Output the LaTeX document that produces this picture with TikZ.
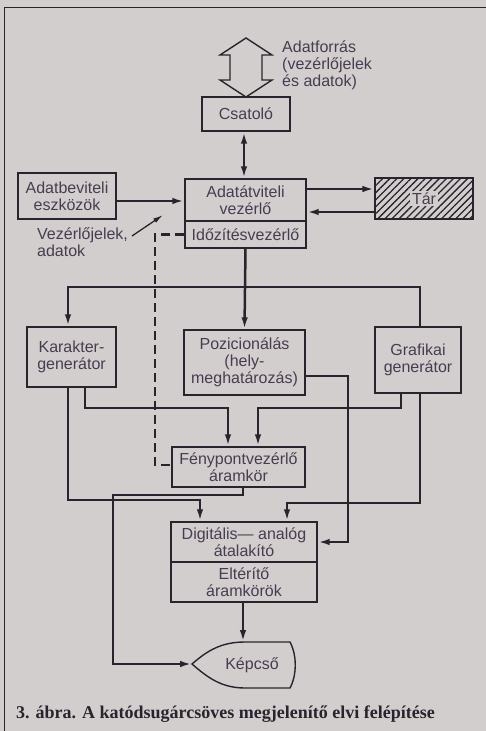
\documentclass[tikz,border=0pt]{standalone}
\usepackage{fontspec}
\setmainfont{Liberation Sans}
\newfontfamily\capfont{Liberation Serif}
\usetikzlibrary{arrows.meta,patterns.meta,calc}
\definecolor{bg}{RGB}{211,206,206}
\definecolor{ink}{RGB}{42,35,45}
\definecolor{txt}{RGB}{72,60,80}
\begin{document}
\begin{tikzpicture}[x=1pt,y=-1pt,
  box/.style={draw=ink, line width=1.4pt, fill=bg, text=txt, align=center,
    font=\fontsize{16}{17}\selectfont, inner sep=0pt},
  lbl/.style={text=txt, font=\fontsize{16}{17}\selectfont, inner sep=0pt},
  conn/.style={draw=ink, line width=2.5pt, -{Latex[length=12pt,width=6.5pt]}},
  dconn/.style={draw=ink, line width=2.5pt, {Latex[length=12pt,width=6.5pt]}-{Latex[length=12pt,width=6.5pt]}},
  thinarrow/.style={draw=ink, line width=1.3pt, -{Latex[length=10pt,width=5pt]}},
  dashwire/.style={draw=ink, line width=2.5pt, dash pattern=on 9pt off 5pt},
]
\fill[bg] (0,0) rectangle (486,731);
\useasboundingbox (0,0) rectangle (486,731);
% frame
\draw[ink, line width=1pt] (4,731) -- (4,7) -- (486,7);

% hollow double arrow (data source)
\draw[ink, line width=1.4pt, fill=bg] (246,38) -- (272,55) -- (262,55) -- (262,80) -- (272,80)
  -- (246,97) -- (220,80) -- (230,80) -- (230,55) -- (220,55) -- cycle;
\node[lbl, align=left, anchor=west] (src) at (282,65) {Adatforrás\\(vezérlőjelek\\és adatok)};

% nodes
\node[box, minimum width=88pt, minimum height=34pt] (csat) at (246,114) {Csatoló};
\node[box, minimum width=121pt, minimum height=42pt] (adat) at (245.5,200) {Adatátviteli\\vezérlő};
\node[box, minimum width=121pt, minimum height=27pt] (idoz) at (245.5,234.5) {Időzítésvezérlő};
\node[box, minimum width=98pt, minimum height=46pt] (bev) at (67,196) {Adatbeviteli\\eszközök};
\node[draw=ink, line width=1.4pt, pattern={Lines[angle=45,distance=5pt,line width=1.3pt]},
  pattern color=ink, minimum width=98pt, minimum height=41pt, inner sep=0pt] (tar) at (424,198.5) {};
\node[lbl, fill=bg, inner sep=2pt] (tarl) at (tar) {Tár};
\node[lbl, align=left, anchor=west] (vez) at (37,242) {Vezérlőjelek,\\adatok};
\node[box, minimum width=89pt, minimum height=60pt] (kar) at (71.5,357) {Karakter-\\generátor};
\node[box, minimum width=121pt, minimum height=65pt] (poz) at (244.5,362.5) {Pozicionálás\\(hely-\\meghatározás)};
\node[box, minimum width=86pt, minimum height=66pt] (graf) at (418,360) {Grafikai\\generátor};
\node[box, minimum width=133pt, minimum height=40pt] (feny) at (238.5,467) {Fénypontvezérlő\\áramkör};
\node[box, minimum width=146pt, minimum height=40pt] (da) at (244,542) {Digitális— analóg\\átalakító};
\node[box, minimum width=146pt, minimum height=40pt] (elt) at (244,582) {Eltérítő\\áramkörök};

% CRT shape
\draw[ink, line width=1.4pt, fill=bg] (192,664) .. controls (208,650) and (222,642) .. (245,642)
  -- (290,642) .. controls (297,655) and (297,675) .. (290,688) -- (245,688)
  .. controls (222,688) and (208,678) .. (192,664) -- cycle;
\node[lbl] (kep) at (252,665) {Képcső};
\coordinate (ktip) at (192,664);
\coordinate (ktop) at (243,642);

% connectors
\draw[dconn] (csat.south -| 244,0) -- (adat.north -| 244,0);
\draw[conn] (bev.east |- 0,201) -- (adat.west |- 0,201);
\draw[conn] (adat.east |- 0,189) -- (tar.west |- 0,189);
\draw[conn] (tar.west |- 0,212) -- (adat.east |- 0,212);
\coordinate (vtail) at (132,236);
\coordinate (vhead) at (163,215);
\draw[thinarrow] (vtail) -- (vhead);
\draw[dashwire] (idoz.west) -| (155,465) -- (feny.west |- 0,465);

\draw[conn] (idoz.south) -- (poz.north);
\draw[conn] (graf.north -| 420,0) |- (68,287) -- (kar.north -| 68,0);

\draw[conn] (kar.south -| 85,0) |- (228,408) -- (feny.north -| 228,0);
\draw[conn] (graf.south -| 401,0) |- (258,408) -- (feny.north -| 258,0);
\draw[conn] (kar.south -| 68,0) |- (200,500) -- (da.north -| 200,0);
\draw[conn] (graf.south -| 420,0) |- (287,503) -- (da.north -| 287,0);
\draw[conn] (poz.east |- 0,376) -| (348,542) -- (da.east |- 0,542);
\draw[conn] (feny.south -| 243,0) |- (113,495) |- (ktip);
\draw[conn] (elt.south -| 243,0) -- (ktop);

% caption
\node[anchor=west, inner sep=0pt, text=ink, font=\capfont\bfseries\fontsize{18}{20}\selectfont] (cap) at (16,714)
  {3. ábra. A katódsugárcsöves megjelenítő elvi felépítése};
\end{tikzpicture}
\end{document}
